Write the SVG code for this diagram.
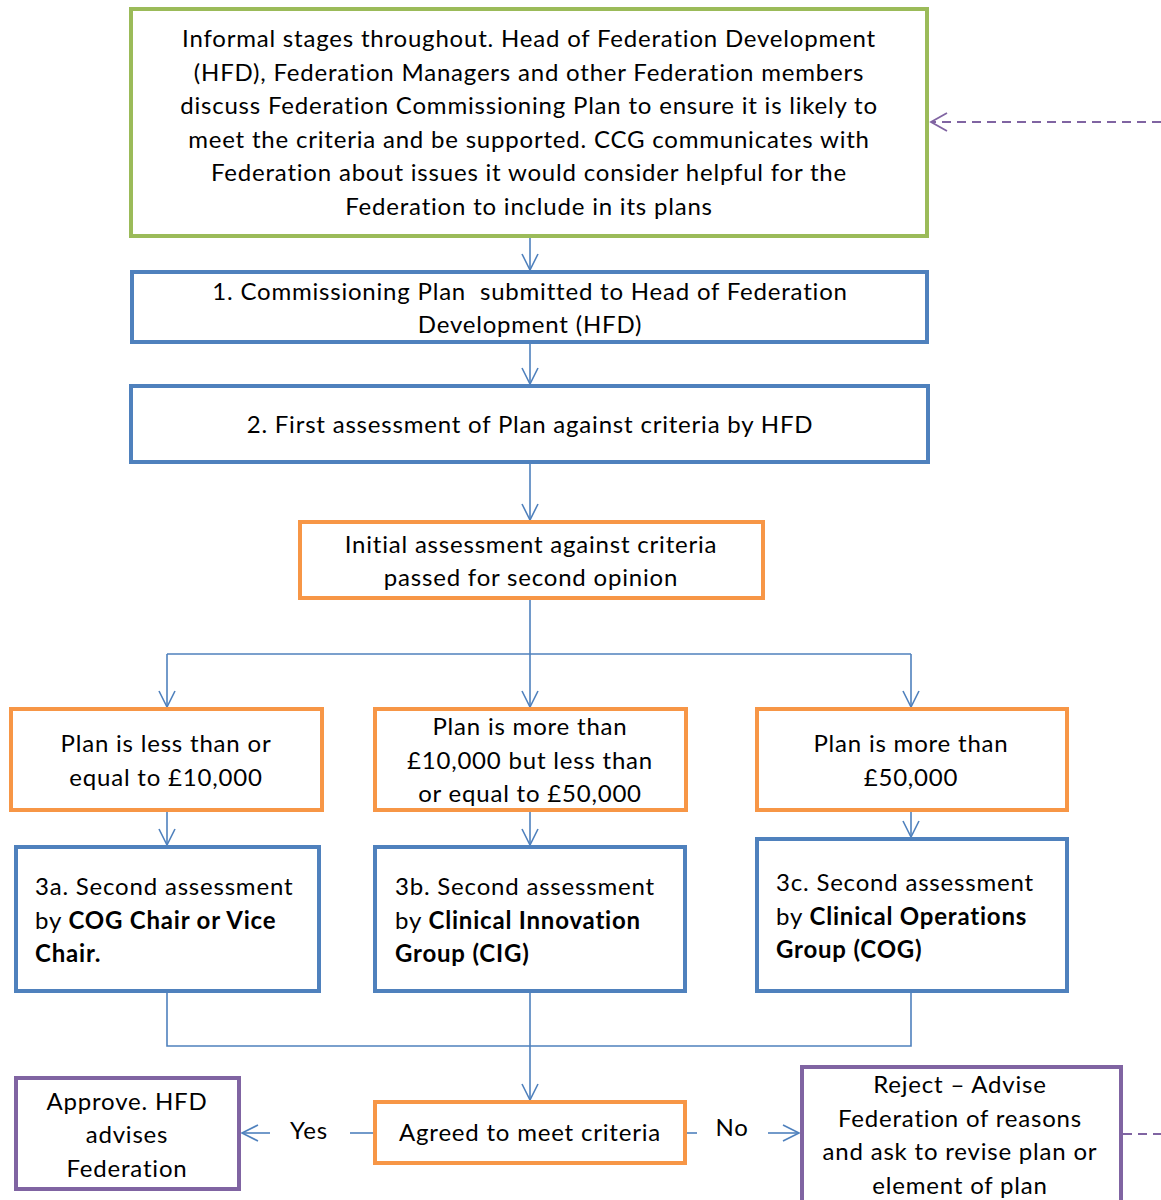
<svg xmlns="http://www.w3.org/2000/svg" width="1161" height="1200" viewBox="0 0 1161 1200">
<defs>
<marker id="arr" viewBox="0 0 20 20" refX="18" refY="10" markerWidth="20" markerHeight="20" markerUnits="userSpaceOnUse" orient="auto">
<path d="M2,2 L18,10 L2,18" fill="none" stroke="#4F81BD" stroke-width="1.6"/>
</marker>
<marker id="arrP" viewBox="0 0 20 20" refX="18" refY="10" markerWidth="20" markerHeight="20" markerUnits="userSpaceOnUse" orient="auto">
<path d="M2,1 L18,10 L2,19" fill="none" stroke="#8064A2" stroke-width="1.8"/>
</marker>
</defs>
<style>
.g{fill:#fff;stroke:#9BBB59;stroke-width:4}
.b{fill:#fff;stroke:#4F81BD;stroke-width:4}
.o{fill:#fff;stroke:#F79646;stroke-width:4}
.p{fill:#fff;stroke:#8064A2;stroke-width:4}
text{font-family:Lato,"Open Sans","Liberation Sans",sans-serif;font-size:24px;letter-spacing:0.8px;fill:#000}
.c{text-anchor:middle}
.bd{font-weight:bold}
.ln{fill:none;stroke:#4F81BD;stroke-width:1.6}
.dash{fill:none;stroke:#8064A2;stroke-width:2;stroke-dasharray:9,6}
</style>
<rect width="1161" height="1200" fill="#fff"/>
<g id="connectors">
<path class="ln" d="M530,237 V270" marker-end="url(#arr)"/>
<path class="ln" d="M530,343 V384" marker-end="url(#arr)"/>
<path class="ln" d="M530,463 V520" marker-end="url(#arr)"/>
<path class="ln" d="M530,599 V654"/>
<path class="ln" d="M167,654 H911"/>
<path class="ln" d="M167,654 V707" marker-end="url(#arr)"/>
<path class="ln" d="M530,654 V707" marker-end="url(#arr)"/>
<path class="ln" d="M911,654 V707" marker-end="url(#arr)"/>
<path class="ln" d="M167,811 V845" marker-end="url(#arr)"/>
<path class="ln" d="M530,811 V845" marker-end="url(#arr)"/>
<path class="ln" d="M911,811 V837" marker-end="url(#arr)"/>
<path class="ln" d="M167,992 V1046 H911 V992"/>
<path class="ln" d="M530,992 V1100" marker-end="url(#arr)"/>
<path class="ln" d="M373,1133 H350"/>
<path class="ln" d="M270,1133 H242" marker-end="url(#arr)"/>
<text x="309" y="1139" class="c">Yes</text>
<path class="ln" d="M687,1133 H697"/>
<path class="ln" d="M768,1133 H799" marker-end="url(#arr)"/>
<text x="732" y="1136" class="c">No</text>
<path class="dash" d="M1123,1134 H1161"/>
<path class="dash" d="M1161,122 H931" marker-end="url(#arrP)"/>
</g>
<g id="n0">
<rect class="g" x="131" y="9" width="796" height="227"/>
<text class="c" x="529" y="47">Informal stages throughout. Head of Federation Development</text>
<text class="c" x="529" y="81">(HFD), Federation Managers and other Federation members</text>
<text class="c" x="529" y="114">discuss Federation Commissioning Plan to ensure it is likely to</text>
<text class="c" x="529" y="148">meet the criteria and be supported. CCG communicates with</text>
<text class="c" x="529" y="181">Federation about issues it would consider helpful for the</text>
<text class="c" x="529" y="215">Federation to include in its plans</text>
</g>
<g id="n1">
<rect class="b" x="132" y="272" width="795" height="70"/>
<text class="c" x="530" y="300" xml:space="preserve">1. Commissioning Plan  submitted to Head of Federation</text>
<text class="c" x="530" y="333">Development (HFD)</text>
</g>
<g id="n2">
<rect class="b" x="131" y="386" width="797" height="76"/>
<text class="c" x="530" y="433">2. First assessment of Plan against criteria by HFD</text>
</g>
<g id="n3">
<rect class="o" x="300" y="522" width="463" height="76"/>
<text class="c" x="531" y="553">Initial assessment against criteria</text>
<text class="c" x="531" y="586">passed for second opinion</text>
</g>
<g id="n4">
<rect class="o" x="11" y="709" width="311" height="101"/>
<text class="c" x="166" y="752">Plan is less than or</text>
<text class="c" x="166" y="786">equal to £10,000</text>
</g>
<g id="n5">
<rect class="o" x="375" y="709" width="311" height="101"/>
<text class="c" x="530" y="735">Plan is more than</text>
<text class="c" x="530" y="769">£10,000 but less than</text>
<text class="c" x="530" y="802">or equal to £50,000</text>
</g>
<g id="n6">
<rect class="o" x="757" y="709" width="310" height="101"/>
<text class="c" x="911" y="752">Plan is more than</text>
<text class="c" x="911" y="786">£50,000</text>
</g>
<g id="n7">
<rect class="b" x="16" y="847" width="303" height="144"/>
<text x="35" y="895">3a. Second assessment</text>
<text x="35" y="929">by <tspan class="bd">COG Chair or Vice</tspan></text>
<text x="35" y="962" class="bd">Chair.</text>
</g>
<g id="n8">
<rect class="b" x="375" y="847" width="310" height="144"/>
<text x="395" y="895">3b. Second assessment</text>
<text x="395" y="929">by <tspan class="bd">Clinical Innovation</tspan></text>
<text x="395" y="962" class="bd">Group (CIG)</text>
</g>
<g id="n9">
<rect class="b" x="757" y="839" width="310" height="152"/>
<text x="776" y="891">3c. Second assessment</text>
<text x="776" y="925">by <tspan class="bd">Clinical Operations</tspan></text>
<text x="776" y="958" class="bd">Group (COG)</text>
</g>
<g id="n10">
<rect class="o" x="375" y="1102" width="310" height="61"/>
<text class="c" x="530" y="1141">Agreed to meet criteria</text>
</g>
<g id="n11">
<rect class="p" x="16" y="1078" width="223" height="111"/>
<text class="c" x="127" y="1110">Approve. HFD</text>
<text class="c" x="127" y="1143">advises</text>
<text class="c" x="127" y="1177">Federation</text>
</g>
<g id="n12">
<rect class="p" x="802" y="1067" width="319" height="150"/>
<text class="c" x="960" y="1093">Reject – Advise</text>
<text class="c" x="960" y="1127">Federation of reasons</text>
<text class="c" x="960" y="1160">and ask to revise plan or</text>
<text class="c" x="960" y="1194">element of plan</text>
</g>
</svg>
